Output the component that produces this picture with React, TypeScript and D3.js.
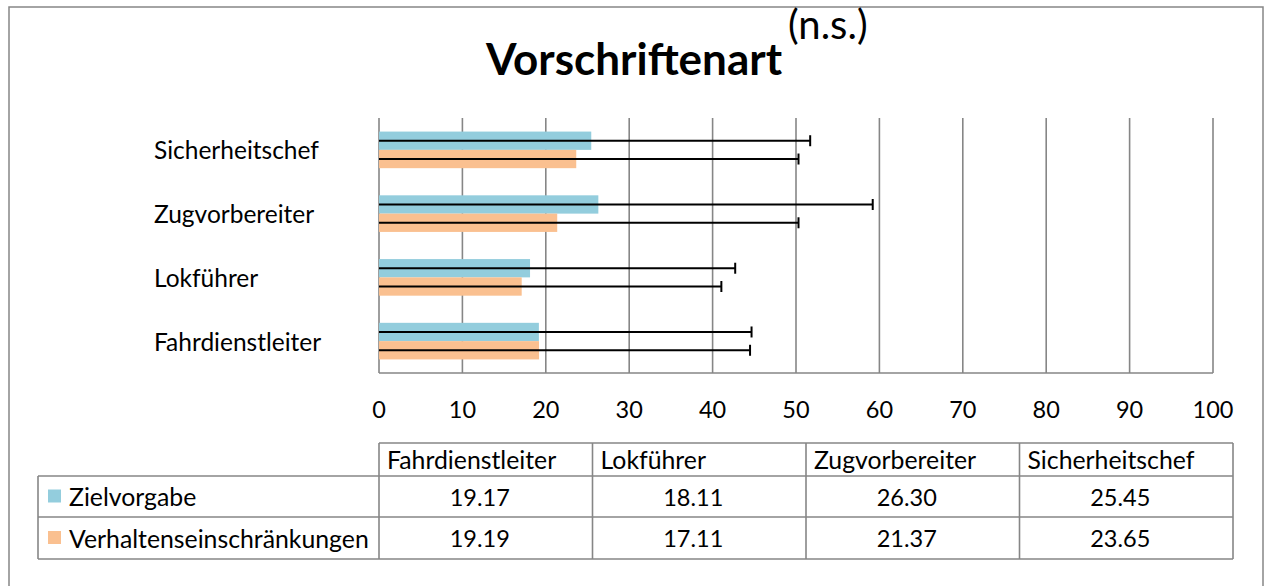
import React from "react";
import * as d3 from "d3";

const categories = ["Fahrdienstleiter", "Lokführer", "Zugvorbereiter", "Sicherheitschef"];
const seriesNames = ["Zielvorgabe", "Verhaltenseinschränkungen"];
const zielvorgabe = [19.17, 18.11, 26.3, 25.45];
const verhalten = [19.19, 17.11, 21.37, 23.65];
const zielError = [25.5, 24.6, 32.9, 26.25];
const verhaltenError = [25.3, 23.94, 28.93, 26.65];
const xTicks = [0, 10, 20, 30, 40, 50, 60, 70, 80, 90, 100];
const colors = ["#93CDDD", "#FAC090"];
const title = "Vorschriftenart";
const titleSup = "(n.s.)";

const FONT = "Lato, 'Open Sans', sans-serif";
const GRID = "#868686";

export default function App() {
  const W = 1265, H = 586;
  const x = d3.scaleLinear().domain([0, 100]).range([379, 1213]);
  const topToBottom = [...categories].reverse();
  const y = d3.scaleBand<string>().domain(topToBottom).range([118, 373]).padding(0);
  const barH = 18.3;
  const groupOffset = (y.step() - 2 * barH) / 2;
  const values = [zielvorgabe, verhalten];
  const errors = [zielError, verhaltenError];

  const tableLeft = 38, colStart = 379, tableRight = 1233;
  const colScale = d3.scaleBand<string>().domain(categories).range([colStart, tableRight]);
  const rowTops = [443, 476, 517];
  const rowBottom = 559;

  return (
    <svg width={W} height={H} style={{ position: "absolute", left: 0, top: 0, background: "#fff" }} fontFamily={FONT}>
      <rect x={9} y={7} width={1254} height={620} fill="#fff" stroke={GRID} strokeWidth={1.5} />
      {/* title */}
      <text x={486} y={75} fontSize={44} fontWeight="bold" fill="#000">{title}</text>
      <text x={788} y={39} fontSize={40} fill="#000">{titleSup}</text>
      {/* gridlines */}
      {xTicks.map((t) => (
        <line key={t} x1={x(t)} x2={x(t)} y1={118} y2={373} stroke={GRID} strokeWidth={1.6} />
      ))}
      <line x1={x(0)} x2={x(100)} y1={373} y2={373} stroke={GRID} strokeWidth={1.6} />
      {/* category labels */}
      {topToBottom.map((c) => (
        <text key={c} x={154} y={(y(c) as number) + y.step() / 2} fontSize={24.5} dominantBaseline="central" fill="#000">
          {c}
        </text>
      ))}
      {/* bars */}
      {categories.map((c, ci) =>
        values.map((vals, si) => {
          const by = (y(c) as number) + groupOffset + si * barH;
          return (
            <rect key={c + si} x={x(0)} y={by} width={x(vals[ci]) - x(0)} height={barH} fill={colors[si]} />
          );
        })
      )}
      {/* error bars */}
      {categories.map((c, ci) =>
        values.map((vals, si) => {
          const cy = (y(c) as number) + groupOffset + si * barH + barH / 2;
          const hi = vals[ci] + errors[si][ci];
          const lo = Math.max(0, vals[ci] - errors[si][ci]);
          return (
            <g key={"e" + c + si}>
              <line x1={x(lo)} x2={x(hi)} y1={cy} y2={cy} stroke="#000" strokeWidth={2} />
              <line x1={x(hi)} x2={x(hi)} y1={cy - 5.5} y2={cy + 5.5} stroke="#000" strokeWidth={2} />
            </g>
          );
        })
      )}
      {/* x tick labels */}
      {xTicks.map((t) => (
        <text key={"t" + t} x={x(t)} y={409} fontSize={23.5} textAnchor="middle" dominantBaseline="central" fill="#000">
          {t}
        </text>
      ))}
      {/* data table */}
      <g fill="none" stroke={GRID} strokeWidth={1.6}>
        <line x1={colStart} x2={tableRight} y1={rowTops[0]} y2={rowTops[0]} />
        <line x1={tableLeft} x2={tableRight} y1={rowTops[1]} y2={rowTops[1]} />
        <line x1={tableLeft} x2={tableRight} y1={rowTops[2]} y2={rowTops[2]} />
        <line x1={tableLeft} x2={tableRight} y1={rowBottom} y2={rowBottom} />
        <line x1={tableLeft} x2={tableLeft} y1={rowTops[1]} y2={rowBottom} />
        {categories.map((c) => (
          <line key={"v" + c} x1={colScale(c)} x2={colScale(c)} y1={rowTops[0]} y2={rowBottom} />
        ))}
        <line x1={tableRight} x2={tableRight} y1={rowTops[0]} y2={rowBottom} />
      </g>
      {categories.map((c) => (
        <text key={"h" + c} x={(colScale(c) as number) + 8} y={(rowTops[0] + rowTops[1]) / 2} fontSize={24.8} dominantBaseline="central" fill="#000">
          {c}
        </text>
      ))}
      {seriesNames.map((s, si) => {
        const top = rowTops[si + 1];
        const bottom = si === 0 ? rowTops[2] : rowBottom;
        const cy = (top + bottom) / 2;
        return (
          <g key={s}>
            <rect x={48} y={cy - 7} width={13} height={13} fill={colors[si]} />
            <text x={69} y={cy} fontSize={24.8} dominantBaseline="central" fill="#000">{s}</text>
            {categories.map((c, ci) => (
              <text key={c} x={(colScale(c) as number) + colScale.bandwidth() / 2 - 6} y={cy} fontSize={23.5} textAnchor="middle" dominantBaseline="central" fill="#000">
                {values[si][ci].toFixed(2)}
              </text>
            ))}
          </g>
        );
      })}
    </svg>
  );
}
